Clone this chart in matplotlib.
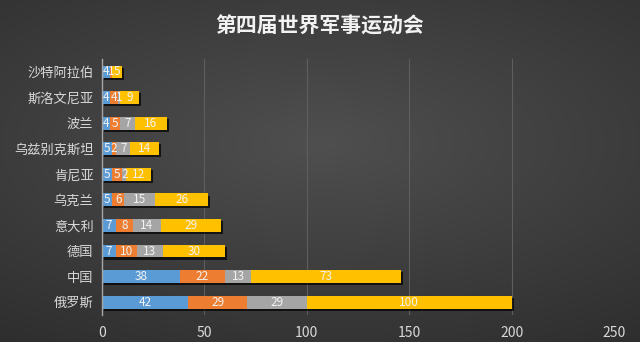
import numpy as np
import matplotlib
matplotlib.use("Agg")
import matplotlib.pyplot as plt
import matplotlib.patheffects as pe

plt.rcParams['font.family'] = ['Noto Sans CJK SC', 'DejaVu Sans']

# ── Datos ───────────────────────────────────────────────────────────────────
countries = ["俄罗斯", "中国", "德国", "意大利", "乌克兰",
             "肯尼亚", "乌兹别克斯坦", "波兰", "斯洛文尼亚", "沙特阿拉伯"]
series_1 = [42, 38, 7, 7, 5, 5, 5, 4, 4, 4]
series_2 = [29, 22, 10, 8, 6, 5, 2, 5, 4, 1]
series_3 = [29, 13, 13, 14, 15, 2, 7, 7, 1, 0]
series_4 = [100, 73, 30, 29, 26, 12, 14, 16, 9, 5]
x_ticks = [0, 50, 100, 150, 200, 250]

COLORS = ["#5b9bd5", "#ed7d31", "#a5a5a5", "#ffc000"]

# ── Figura ──────────────────────────────────────────────────────────────────
fig = plt.figure(figsize=(6.4, 3.42), dpi=100, facecolor="#3a3a3a")

# fondo con degradado radial (centro más claro, bordes oscuros)
bg = fig.add_axes([0, 0, 1, 1])
yy, xx = np.mgrid[-1:1:200j, -1:1:400j]
r = np.clip(np.sqrt((xx * 0.75) ** 2 + (yy * 0.9 + 0.15) ** 2), 0, 1.3)
level = 0.31 - 0.10 * r          # gris claro en el centro → oscuro en esquinas
bg.imshow(np.dstack([level] * 3), aspect="auto", extent=[0, 1, 0, 1])
bg.axis("off")

ax = fig.add_axes([0.159, 0.079, 0.801, 0.748])
ax.patch.set_alpha(0)

y = np.arange(len(countries))
left = np.zeros(len(countries))
shadow = [pe.SimplePatchShadow(offset=(1.5, -1.5), shadow_rgbFace="black", alpha=0.7),
          pe.Normal()]
for vals, col in zip([series_1, series_2, series_3, series_4], COLORS):
    bars = ax.barh(y, vals, left=left, height=0.5, color=col, zorder=3)
    for b in bars:
        b.set_path_effects(shadow)
    for yi, (l, v) in enumerate(zip(left, vals)):
        if v > 0:
            ax.text(l + v / 2, yi, str(v), ha="center", va="center",
                    fontsize=8.5, color="#f2f2f2", zorder=4)
    left = left + np.array(vals)

ax.set_xlim(0, 250)
ax.set_ylim(-0.5, len(countries) - 0.5)
ax.set_xticks(x_ticks)
ax.set_yticks(y)
ax.set_yticklabels(countries)
ax.tick_params(axis="both", length=0, colors="#d9d9d9", labelsize=9.5)
ax.tick_params(axis="x", labelsize=10, pad=8)
ax.tick_params(axis="y", pad=6)
ax.xaxis.grid(True, color="#5e5e5e", linewidth=0.8, zorder=0)
ax.set_axisbelow(True)
for s in ["top", "right", "bottom"]:
    ax.spines[s].set_visible(False)
ax.spines["left"].set_color("#a6a6a6")
ax.spines["left"].set_linewidth(1.0)
ax.spines["left"].set_zorder(5)

fig.text(0.5, 0.925, "第四届世界军事运动会", ha="center", va="center",
         fontsize=15, color="#f2f2f2", fontweight="bold")

fig.savefig("out.png", dpi=100, facecolor=fig.get_facecolor())
